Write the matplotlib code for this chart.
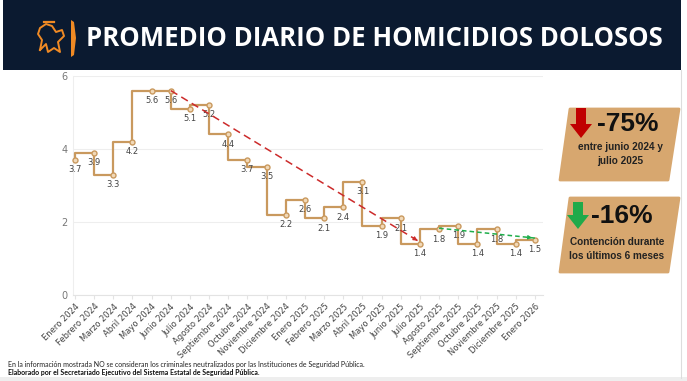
import numpy as np
import matplotlib.pyplot as plt
from matplotlib.patches import Rectangle, Polygon

months = ['Enero 2024', 'Febrero 2024', 'Marzo 2024', 'Abril 2024', 'Mayo 2024', 'Junio 2024',
          'Julio 2024', 'Agosto 2024', 'Septiembre 2024', 'Octubre 2024', 'Noviembre 2024',
          'Diciembre 2024', 'Enero 2025', 'Febrero 2025', 'Marzo 2025', 'Abril 2025', 'Mayo 2025',
          'Junio 2025', 'Julio 2025', 'Agosto 2025', 'Septiembre 2025', 'Octubre 2025',
          'Noviembre 2025', 'Diciembre 2025', 'Enero 2026']
promedio = [3.7, 3.9, 3.3, 4.2, 5.6, 5.6, 5.1, 5.2, 4.4, 3.7, 3.5, 2.2, 2.6, 2.1, 2.4, 3.1,
            1.9, 2.1, 1.4, 1.8, 1.9, 1.4, 1.8, 1.4, 1.5]
red_idx = [5, 18]
red_trend = [5.6, 1.45]
green_idx = [19, 24]
green_trend = [1.83, 1.56]

W, H = 687, 381
fig = plt.figure(figsize=(W / 100, H / 100), dpi=100)
fig.patch.set_facecolor('white')

def fx(x):
    return x / W

def fy(y):
    return 1 - y / H

# header band
fig.patches.append(Rectangle((fx(3), fy(70)), fx(678), 70 / H, transform=fig.transFigure,
                             facecolor='#0b1a30', edgecolor='none', zorder=0))
fig.text(fx(86), fy(38), 'PROMEDIO DIARIO DE HOMICIDIOS DOLOSOS', color='white',
         fontsize=18.5, fontweight='bold', family='Open Sans', va='center', ha='left')
# logo: orange bar + simple lion outline
fig.patches.append(Polygon([(fx(71), fy(20)), (fx(74), fy(22)), (fx(76), fy(38)),
                            (fx(74), fy(55)), (fx(71), fy(57))], closed=True,
                           transform=fig.transFigure, facecolor='#f08a24', edgecolor='none'))
lion = [(40, 50), (42, 40), (38, 34), (40, 28), (46, 24), (52, 26), (56, 32), (62, 30),
        (64, 36), (58, 42), (60, 52), (54, 48), (48, 52), (46, 44), (40, 50)]
fig.lines.append(plt.Line2D([fx(p[0]) for p in lion], [fy(p[1]) for p in lion],
                            transform=fig.transFigure, color='#f08a24', lw=1.4))
fig.lines.append(plt.Line2D([fx(44), fx(54)], [fy(22), fy(22)], transform=fig.transFigure,
                            color='#f08a24', lw=1.6))

# right border / footer strip
fig.lines.append(plt.Line2D([fx(681), fx(681)], [fy(70), fy(378)], transform=fig.transFigure,
                            color='#dddddd', lw=0.8))
fig.patches.append(Rectangle((0, 0), 1, 4 / H, transform=fig.transFigure,
                             facecolor='#eeeeee', edgecolor='none'))

# main axes
ax = fig.add_axes([fx(73), fy(295), fx(470), (295 - 76) / H])
x = np.arange(len(months))
line_c = '#c9995e'
ax.plot(x, promedio, drawstyle='steps-pre', color=line_c, lw=1.6, zorder=3)
ax.plot(x, promedio, 'o', ms=3.6, mfc='#f1d9b8', mec=line_c, mew=1.0, zorder=4, clip_on=False)
for xi, v in zip(x, promedio):
    ax.annotate(f'{v:.1f}', (xi, v), xytext=(0, -7), textcoords='offset points',
                ha='center', va='center', fontsize=6, color='#444444', zorder=5)

ax.plot(red_idx, red_trend, ls=(0, (5, 3)), color='#cc2b2b', lw=1.1, zorder=5)
ax.annotate('', xy=(red_idx[1], red_trend[1]), xytext=(red_idx[1] - 0.5, red_trend[1] + 0.16),
            arrowprops=dict(arrowstyle='-|>', color='#cc2b2b', lw=0.8, mutation_scale=6), zorder=5)
ax.plot(green_idx, green_trend, ls=(0, (3, 2)), color='#1fae4b', lw=1.1, zorder=5)
ax.annotate('', xy=(green_idx[1], green_trend[1]), xytext=(green_idx[1] - 0.5, green_trend[1] + 0.027),
            arrowprops=dict(arrowstyle='-|>', color='#1fae4b', lw=0.8, mutation_scale=6), zorder=5)

ax.set_xlim(-0.104, 24.42)
ax.set_ylim(0, 6)
ax.set_yticks([0, 2, 4, 6])
ax.set_xticks(x)
ax.set_xticklabels(months, rotation=45, ha='right', rotation_mode='anchor', fontsize=6,
                   color='#444444')
ax.tick_params(axis='y', labelsize=7, colors='#777777', length=0, pad=4)
ax.tick_params(axis='x', length=3, color='#e3e3e3', pad=2)
ax.grid(axis='y', color='#eeeeee', lw=0.8)
ax.set_axisbelow(True)
for s in ['top', 'right']:
    ax.spines[s].set_visible(False)
ax.spines['left'].set_color('#eeeeee')
ax.spines['bottom'].set_color('#e3e3e3')

# callout boxes
box_c = '#d7a76f'
for top, bot in [(109, 180), (198, 272)]:
    fig.patches.append(Polygon([(fx(570), fy(top)), (fx(679), fy(top)), (fx(668), fy(bot)),
                                (fx(560), fy(bot))], closed=True, transform=fig.transFigure,
                               facecolor=box_c, edgecolor=box_c, lw=2, joinstyle='round'))

def down_arrow(xc, ytop, ybot, color):
    sw, hw, hh = 5, 11, 14
    pts = [(xc - sw, ytop), (xc + sw, ytop), (xc + sw, ybot - hh), (xc + hw, ybot - hh),
           (xc, ybot), (xc - hw, ybot - hh), (xc - sw, ybot - hh)]
    fig.patches.append(Polygon([(fx(a), fy(b)) for a, b in pts], closed=True,
                               transform=fig.transFigure, facecolor=color, edgecolor='none'))

down_arrow(581, 108, 138, '#c00000')
down_arrow(578, 202, 229, '#1faa4a')
fig.text(fx(628), fy(124), '-75%', fontsize=19, fontweight='bold', color='#111111',
         ha='center', va='center', family='Liberation Sans')
fig.text(fx(620), fy(154), 'entre junio 2024 y\njulio 2025', fontsize=7.2, fontweight='bold',
         color='#222222', ha='center', va='center', family='Liberation Sans', linespacing=1.6)
fig.text(fx(622), fy(216), '-16%', fontsize=19, fontweight='bold', color='#111111',
         ha='center', va='center', family='Liberation Sans')
fig.text(fx(617), fy(249), 'Contención durante\nlos últimos 6 meses', fontsize=7.2,
         fontweight='bold', color='#222222', ha='center', va='center', family='Liberation Sans',
         linespacing=1.6)

# footer
fig.text(fx(8), fy(364), 'En la información mostrada NO se consideran los criminales neutralizados '
         'por las Instituciones de Seguridad Pública.', fontsize=5, color='#222222',
         va='center', family='Lato')
fig.text(fx(8), fy(373), 'Elaborado por el Secretariado Ejecutivo del Sistema Estatal de Seguridad '
         'Pública.', fontsize=5, fontweight='bold', color='#111111', va='center', family='Lato')

fig.savefig('out.png', dpi=100)
